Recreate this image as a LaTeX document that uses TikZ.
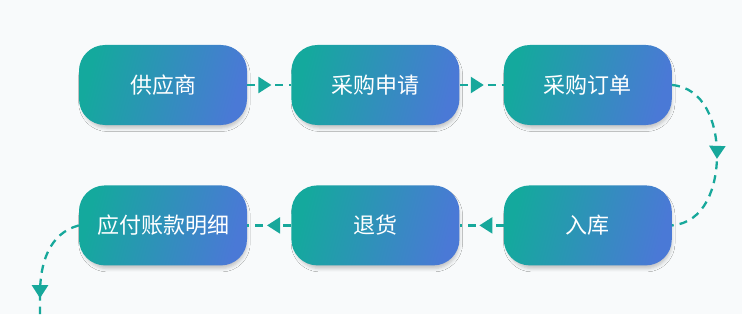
\documentclass[tikz,border=0pt]{standalone}
\usepackage{fontspec}
\setmainfont{Noto Sans CJK SC}
\usetikzlibrary{arrows.meta, positioning, decorations.markings, shadows.blur}
\definecolor{flowteal}{HTML}{14A99D}
\definecolor{flowblue}{HTML}{4A79D6}
\definecolor{flowline}{HTML}{17A89B}
\definecolor{flowbg}{HTML}{F8FAFB}
\tikzset{
  flowblock/.style={rectangle, rounded corners=26pt,
                    minimum width=168pt, minimum height=80pt,
                    left color=flowteal, right color=flowblue, shading angle=75,
                    text=white, font=\fontsize{22}{26}\selectfont,
                    blur shadow={shadow xshift=1.5pt, shadow yshift=-4pt, shadow scale=0.98,
                                 shadow blur radius=3.5pt, shadow opacity=22}},
  flowarrow/.style={draw=flowline, line width=2.3pt, dash pattern=on 8pt off 6pt,
                    postaction={decorate},
                    decoration={markings, mark=at position #1 with
                      {\arrow[flowline]{Triangle[length=13pt, width=16pt]}}}},
  flowarrow/.default=0.55,
}
\begin{document}
\begin{tikzpicture}[x=1pt, y=1pt]
  \useasboundingbox[fill=flowbg] (0,0) rectangle (742,314);
  % top row
  \node[flowblock] (sup) at (163,229) {供应商};
  \node[flowblock, right=44pt of sup] (req) {采购申请};
  \node[flowblock, right=44pt of req] (order) {采购订单};
  % bottom row
  \node[flowblock, below=60pt of order] (stockin) {入库};
  \node[flowblock, left=44pt of stockin] (ret) {退货};
  \node[flowblock, left=44pt of ret] (payable) {应付账款明细};
  \coordinate (turnR) at (717,159);
  \coordinate (turnL) at (40,20);
  \coordinate (endL) at (40,0);
  \draw[flowarrow] (sup) -- (req);
  \draw[flowarrow] (req) -- (order);
  \draw[flowarrow=0.52] (order.east) to[out=-5, in=90] (turnR) to[out=-90, in=5] (stockin.east);
  \draw[flowarrow] (stockin) -- (ret);
  \draw[flowarrow] (ret) -- (payable);
  \draw[flowarrow=0.85] (payable.west) to[out=195, in=90] (turnL) -- (endL);
\end{tikzpicture}
\end{document}
